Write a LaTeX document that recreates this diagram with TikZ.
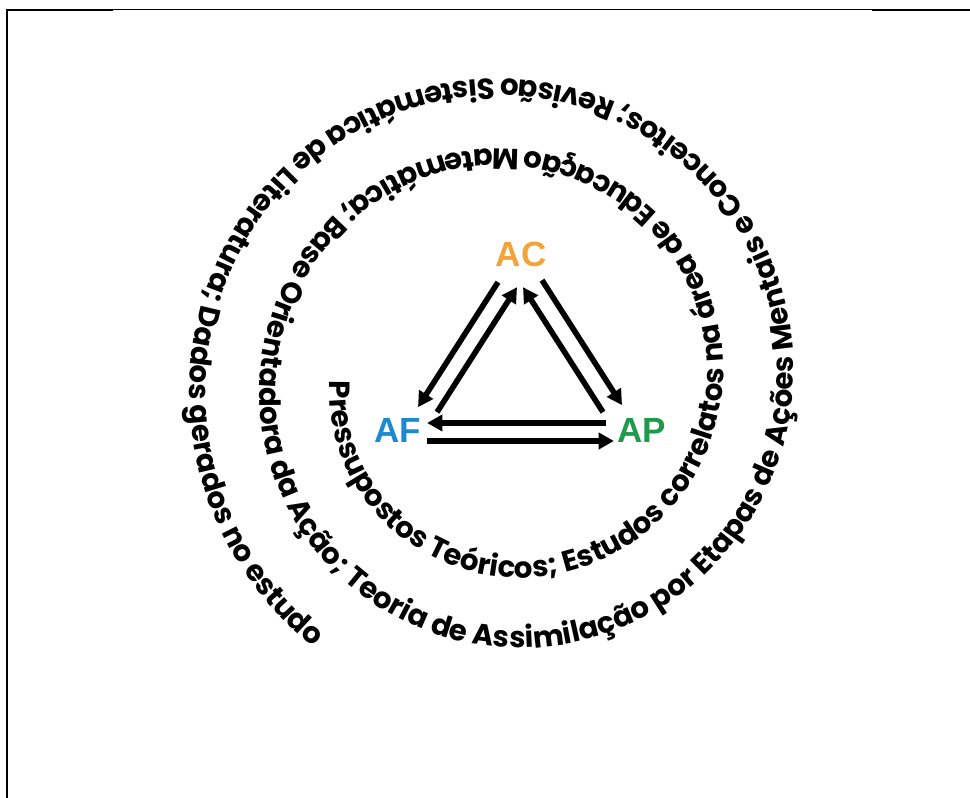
\documentclass[tikz,border=0pt]{standalone}
\usepackage{fontspec}
\usepackage{tikz}
\setmainfont{Liberation Sans}
\newfontfamily\spiralfont{Poppins}
\definecolor{acOrange}{HTML}{F2A33A}
\definecolor{afBlue}{HTML}{1D8ACF}
\definecolor{apGreen}{HTML}{1F9A4A}
\usetikzlibrary{arrows.meta,decorations.text}

\begin{document}
\begin{tikzpicture}[x=0.25pt,y=0.25pt,lbl/.style={inner sep=0pt,font=\fontsize{8.75}{8.75}\selectfont\bfseries},arr/.style={line width=1.4pt,-{Triangle[length=3.8pt,width=4pt]}}]
\useasboundingbox (0,0) rectangle (970,798);
\draw[line width=0.5pt] (7,0)--(7,787.5)--(113,787.5);\draw[line width=0.25pt] (113,788)--(872,788);\draw[line width=0.5pt] (872,787.5)--(970,787.5);
\node[lbl,text=acOrange] (ac) at (521,544) {AC};
\node[lbl,text=afBlue] (af) at (398,368) {AF};
\node[lbl,text=apGreen] (ap) at (642,368) {AP};
\draw[arr] ([shift={(-23,-15)}]ac.south)--([shift={(20,10)}]af.north);\draw[arr] ([shift={(39,5)}]af.north)--([shift={(-4,-20)}]ac.south);
\draw[arr] ([shift={(-39,5)}]ap.north)--([shift={(2,-20)}]ac.south);\draw[arr] ([shift={(21,-13)}]ac.south)--([shift={(-20,12)}]ap.north);
\draw[arr] ([shift={(-11,7)}]ap.west)--([shift={(5,7)}]af.east);\draw[arr] ([shift={(5,-11)}]af.east)--([shift={(-3,-11)}]ap.west);
\path[decorate,decoration={text along path,text align=left,text={|\spiralfont\bfseries\fontsize{7.3}{7.3}\selectfont|Pressupostos Teóricos; Estudos correlatos na área de Educação Matemática; Base Orientadora da Ação; Teoria de Assimilação por Etapas de Ações Mentais e Conceitos; Revisão Sistemática de Literatura; Dados gerados no estudo}}] plot[domain=0:860,samples=431,variable=\t] ({509-(179+0.195*\t)*cos(\t)},{417-(179+0.195*\t)*sin(\t)});
\end{tikzpicture}
\end{document}
